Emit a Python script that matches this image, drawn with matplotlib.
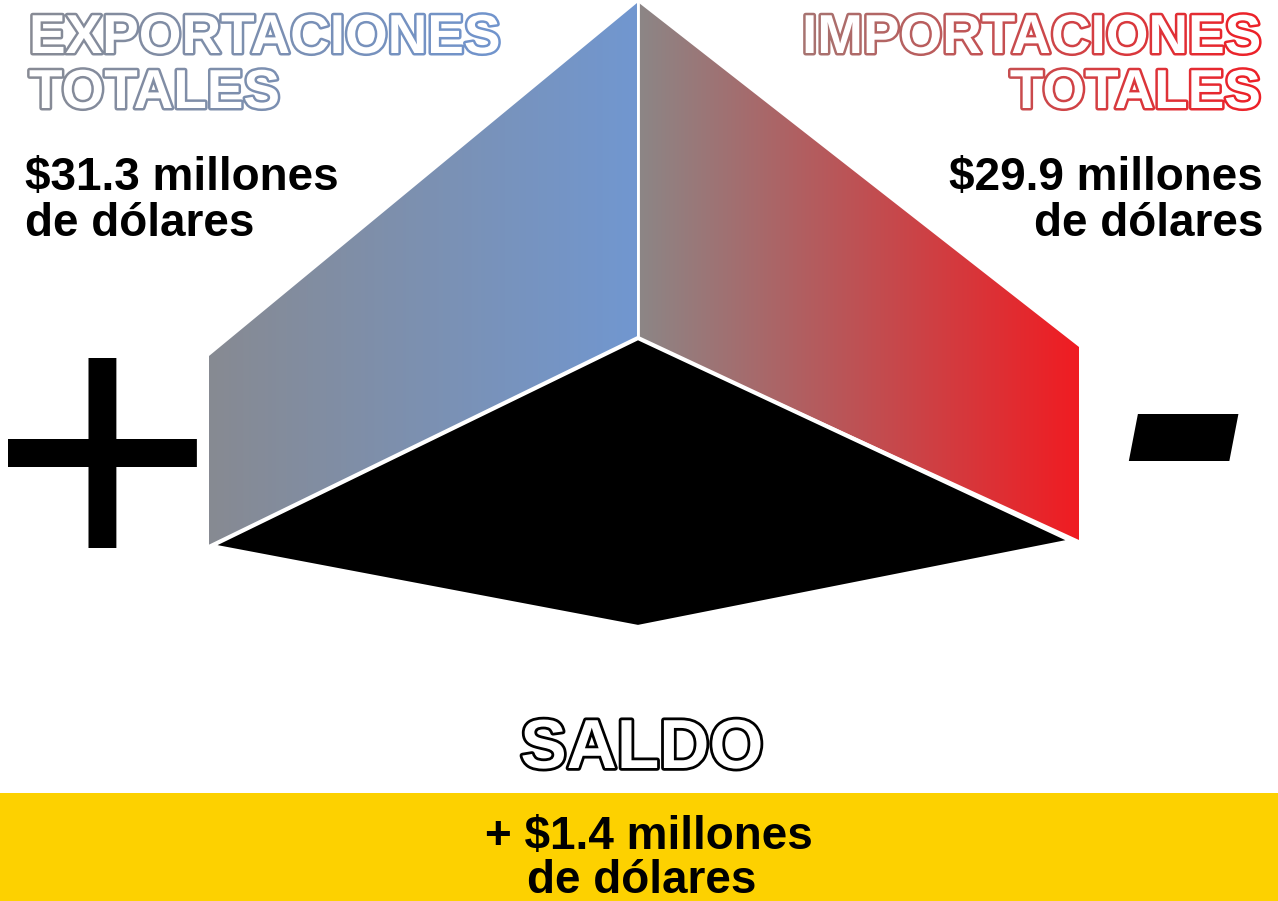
import numpy as np
import matplotlib
matplotlib.use("Agg")
import matplotlib.pyplot as plt
import matplotlib.patheffects as pe
from matplotlib.patches import Polygon, Rectangle
from matplotlib.colors import LinearSegmentedColormap, to_rgb
from matplotlib.transforms import Bbox

# data
titles = ["EXPORTACIONES", "IMPORTACIONES"]
values = [31.3, 29.9]
balance = 1.4
unit = "millones"
unit2 = "de dólares"

plt.rcParams['font.family'] = ['Liberation Sans', 'DejaVu Sans']
plt.rcParams['font.weight'] = 'bold'

W, H = 1278, 901
fig = plt.figure(figsize=(W / 100, H / 100), dpi=100)
ax = fig.add_axes([0, 0, 1, 1])
ax.set_xlim(0, W)
ax.set_ylim(H, 0)
ax.axis('off')


class GradientStroke(pe.AbstractPathEffect):
    # outline whose colour changes from left to right
    def __init__(self, x0, x1, c0, c1, lw=3.6, n=60):
        super().__init__()
        self.x0, self.x1 = x0, x1
        self.c0, self.c1 = np.array(to_rgb(c0)), np.array(to_rgb(c1))
        self.lw, self.n = lw, n

    def draw_path(self, renderer, gc, tpath, affine, rgbFace=None):
        X0 = ax.transData.transform((self.x0, 0))[0]
        X1 = ax.transData.transform((self.x1, 0))[0]
        edges = np.linspace(X0, X1, self.n + 1)
        for i in range(self.n):
            t = (i + 0.5) / self.n
            col = tuple((1 - t) * self.c0 + t * self.c1)
            lo = edges[i] if i > 0 else -1e4
            hi = edges[i + 1] if i < self.n - 1 else 1e5
            gc0 = renderer.new_gc()
            gc0.copy_properties(gc)
            gc0.set_foreground(col)
            gc0.set_linewidth(self.lw)
            gc0.set_joinstyle('round')
            gc0.set_clip_rectangle(Bbox([[lo, -1e4], [hi, 1e5]]))
            renderer.draw_path(gc0, tpath, affine, None)
            gc0.restore()
        renderer.draw_path(gc, tpath, affine, rgbFace)


def gradient_face(pts, c0, c1):
    xs = [p[0] for p in pts]
    ys = [p[1] for p in pts]
    cmap = LinearSegmentedColormap.from_list('g', [c0, c1])
    poly = Polygon(pts, closed=True, facecolor='none', edgecolor='none')
    ax.add_patch(poly)
    im = ax.imshow(np.linspace(0, 1, 256)[None, :], cmap=cmap, aspect='auto',
                   extent=(min(xs), max(xs), max(ys), min(ys)), zorder=1)
    im.set_clip_path(poly)


# the three faces of the pyramid
left_face = [(209, 356), (637, 3), (637, 338), (209, 546)]
right_face = [(639, 3), (1079, 347), (1079, 540), (639, 338)]
base = [(211, 546), (638, 338), (1072, 541), (638, 627)]

gradient_face(left_face, '#878a92', '#7197d0')
gradient_face(right_face, '#8c8686', '#f01c22')
ax.add_patch(Polygon(base, closed=True, facecolor='black', edgecolor='white',
                     linewidth=3, zorder=3))
ax.plot([638, 638], [0, 338], color='white', linewidth=2, zorder=2)

# outlined titles
blue_fx = [GradientStroke(27, 503, '#878a94', '#7094cd')]
red_fx = [GradientStroke(795, 1263, '#a57572', '#ee1f27')]
ax.text(29, 53, titles[0], fontsize=39.5, color='white', ha='left', va='baseline',
        path_effects=blue_fx, zorder=5)
ax.text(29, 108, "TOTALES", fontsize=39.5, color='white', ha='left', va='baseline',
        path_effects=blue_fx, zorder=5)
ax.text(1261, 53, titles[1], fontsize=39.5, color='white', ha='right', va='baseline',
        path_effects=red_fx, zorder=5)
ax.text(1261, 108, "TOTALES", fontsize=39.5, color='white', ha='right', va='baseline',
        path_effects=red_fx, zorder=5)

# values
ax.text(25, 190, f"${values[0]} {unit}", fontsize=33, color='black', ha='left', va='baseline')
ax.text(25, 236, unit2, fontsize=33, color='black', ha='left', va='baseline')
ax.text(1263, 190, f"${values[1]} {unit}", fontsize=33, color='black', ha='right', va='baseline')
ax.text(1263, 236, unit2, fontsize=33, color='black', ha='right', va='baseline')

# plus / minus signs
ax.text(103, 582, "+", fontsize=280, fontweight='normal', color='black',
        ha='center', va='baseline')
ax.text(1183, 540, "-", fontsize=285, color='black', style='italic', ha='center', va='baseline')

# balance
ax.text(642, 768, "SALDO", fontsize=50, color='white', ha='center', va='baseline',
        path_effects=[pe.withStroke(linewidth=4, foreground='black')], zorder=5)
ax.add_patch(Rectangle((0, 793), W, H - 793, facecolor='#fdd100', edgecolor='none', zorder=2))
ax.text(649, 849, f"+ ${balance} {unit}", fontsize=33, color='black', ha='center',
        va='baseline', zorder=4)
ax.text(642, 893, unit2, fontsize=33, color='black', ha='center', va='baseline', zorder=4)

fig.savefig("out.png", dpi=100)
